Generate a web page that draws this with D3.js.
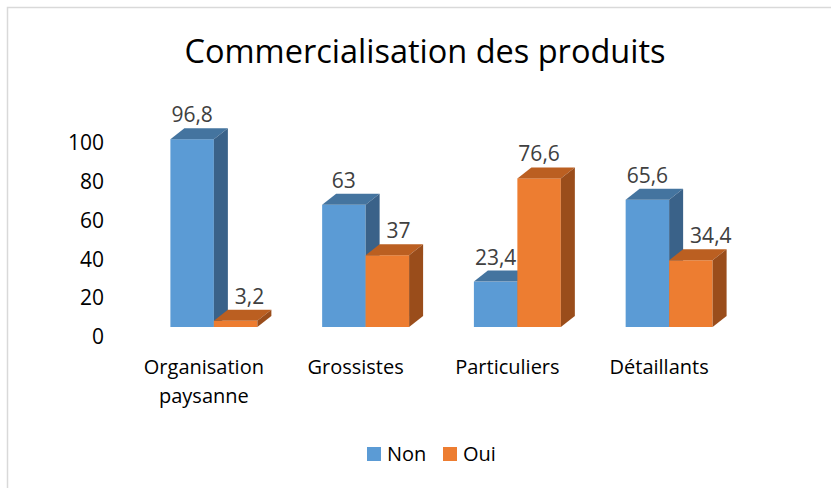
<!DOCTYPE html>
<html>
<head>
<meta charset="utf-8">
<script src="https://cdn.jsdelivr.net/npm/d3@7"></script>
<style>
  body { margin: 0; background: #fff; }
  svg { display: block; font-family: "Open Sans", "DejaVu Sans", sans-serif; }
</style>
</head>
<body>
<div id="chart"></div>
<script>
/* data */
var categories = ['Organisation paysanne', 'Grossistes', 'Particuliers', 'Détaillants'];
var seriesNames = ['Non', 'Oui'];
var nonValues = [96.8, 63, 23.4, 65.6];
var ouiValues = [3.2, 37, 76.6, 34.4];
var yTicks = [0, 20, 40, 60, 80, 100];

var colors = {
    Non: { front: '#5b9bd5', top: '#44749f', side: '#3a6289' },
    Oui: { front: '#ed7d31', top: '#bb5f21', side: '#9a4d1b' }
};

var W = 831, H = 488;
var depthX = 14, depthY = -11;

var svg = d3.select('#chart').append('svg')
    .attr('width', W)
    .attr('height', H);

svg.append('rect').attr('width', W).attr('height', H).attr('fill', '#fff');

// chart border (only top and left visible)
svg.append('path')
    .attr('d', 'M7.5,' + H + 'V7.5H' + W)
    .attr('fill', 'none')
    .attr('stroke', '#d9d9d9')
    .attr('stroke-width', 1.5);

svg.append('text')
    .attr('x', 425)
    .attr('y', 63)
    .attr('text-anchor', 'middle')
    .style('font-size', '32.5px')
    .style('fill', '#000')
    .text('Commercialisation des produits');

var x0 = d3.scaleBand()
    .domain(categories)
    .range([138, 745])
    .paddingInner(0.427)
    .paddingOuter(0.2135);

var x1 = d3.scaleBand()
    .domain(seriesNames)
    .range([0, x0.bandwidth()]);

var y = d3.scaleLinear()
    .domain([0, 100])
    .range([327, 133]);

// y axis labels (no line, no ticks)
var yAxis = d3.axisLeft(y).tickValues(yTicks).tickSize(0).tickPadding(0);
var yg = svg.append('g')
    .attr('transform', 'translate(104,10)')
    .call(yAxis);
yg.select('.domain').remove();
yg.selectAll('text')
    .style('font-size', '21px')
    .style('font-family', '"Open Sans", sans-serif')
    .style('fill', '#000');

var rows = categories.map(function(c, i) {
    return { cat: c, values: [
        { key: 'Non', value: nonValues[i] },
        { key: 'Oui', value: ouiValues[i] }
    ]};
});

var groups = svg.selectAll('g.cat')
    .data(rows)
    .enter().append('g')
    .attr('class', 'cat')
    .attr('transform', function(d) { return 'translate(' + x0(d.cat) + ',0)'; });

groups.each(function(d) {
    var g = d3.select(this);
    var w = x1.bandwidth();
    d.values.forEach(function(v) {
        var bx = x1(v.key), yt = y(v.value), yb = y(0);
        var c = colors[v.key];
        g.append('rect')
            .attr('x', bx).attr('y', yt)
            .attr('width', w).attr('height', yb - yt)
            .attr('fill', c.front);
        g.append('polygon')
            .attr('points', [[bx, yt], [bx + depthX, yt + depthY], [bx + w + depthX, yt + depthY], [bx + w, yt]].join(' '))
            .attr('fill', c.top);
        g.append('polygon')
            .attr('points', [[bx + w, yt], [bx + w + depthX, yt + depthY], [bx + w + depthX, yb + depthY], [bx + w, yb]].join(' '))
            .attr('fill', c.side);
    });
});

// value labels
groups.each(function(d) {
    var g = d3.select(this);
    var w = x1.bandwidth();
    d.values.forEach(function(v, i) {
        var t = g.append('text')
            .attr('text-anchor', 'middle')
            .attr('y', y(v.value) + depthY - 6)
            .style('font-size', '21px')
            .style('fill', '#404040')
            .text(String(v.value).replace('.', ','));
        var cx = x1(v.key) + w / 2;
        if (i === 1 && d.values[0].value > v.value) {
            // push right of the taller neighbour
            var tw = t.node().getComputedTextLength();
            cx = Math.max(cx, x1(d.values[0].key) + w + depthX + 7 + tw / 2);
        }
        t.attr('x', cx);
    });
});

// category labels
var catLines = {
    'Organisation paysanne': ['Organisation', 'paysanne']
};
categories.forEach(function(c) {
    var lines = catLines[c] || [c];
    var t = svg.append('text')
        .attr('text-anchor', 'middle')
        .attr('x', x0(c) + x0.bandwidth() / 2 - 10)
        .attr('y', 374)
        .style('font-size', '20px')
        .style('fill', '#000');
    lines.forEach(function(l, j) {
        t.append('tspan')
            .attr('x', x0(c) + x0.bandwidth() / 2 - 10)
            .attr('dy', j === 0 ? 0 : 29)
            .text(l);
    });
});

// legend
var legendX = [367, 443];
var legend = svg.selectAll('g.legend')
    .data(seriesNames)
    .enter().append('g')
    .attr('class', 'legend')
    .attr('transform', function(d, i) { return 'translate(' + legendX[i] + ',447)'; });
legend.append('rect')
    .attr('width', 14).attr('height', 14)
    .attr('fill', function(d) { return colors[d].front; });
legend.append('text')
    .attr('x', 20)
    .attr('y', 14)
    .style('font-size', '20px')
    .style('fill', '#000')
    .text(function(d) { return d; });
</script>
</body>
</html>
